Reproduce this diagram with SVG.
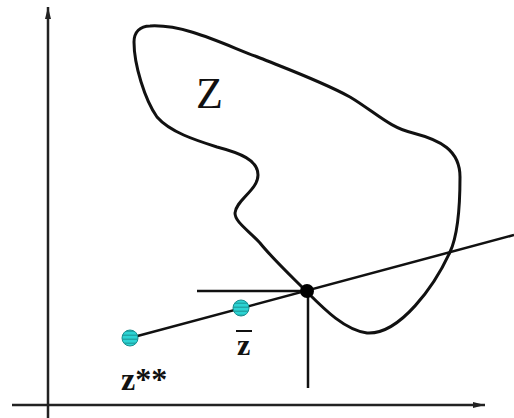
<svg xmlns="http://www.w3.org/2000/svg" width="514" height="418" viewBox="0 0 514 418">
<style>
.ax{stroke:#222;stroke-width:2.5;fill:none}
.ln{stroke:#111;stroke-width:2.5;fill:none}
.blob{stroke:#111;stroke-width:3;fill:none}
.pt{fill:url(#hatch);stroke:#1a8f8f;stroke-width:1}
.lbl{font-family:"Liberation Serif",serif;fill:#111}
</style>
<defs>
<pattern id="hatch" patternUnits="userSpaceOnUse" width="4" height="4">
<rect width="4" height="4" fill="#2cd3d3"/>
<rect y="2.6" width="4" height="1.2" fill="#1b9c9c"/>
</pattern>
<marker id="arr" viewBox="0 0 12 6" refX="12" refY="3" markerWidth="12" markerHeight="6" markerUnits="userSpaceOnUse" orient="auto">
<path d="M0,0 L12,3 L0,6 Z" fill="#222"/>
</marker>
</defs>
<g id="axes">
<line class="ax" x1="48" y1="418" x2="48" y2="7" marker-end="url(#arr)"/>
<line class="ax" x1="12" y1="405" x2="485" y2="405" marker-end="url(#arr)"/>
</g>
<g id="region-Z">
<path class="blob" d="M150 26 C185 24 225 45 260 58 C290 70 325 83 350 97 C375 112 390 128 413 133 C440 140 460 150 460 177 C460 205 458 235 450 252 C435 285 400 335 367 333 C345 330 325 310 307 292 C290 275 272 258 260 243 C248 230 235 222 235 213 C236 200 258 190 258 175 C258 160 240 153 217 147 C195 140 170 132 157 117 C145 100 134 65 134 42 C134 32 140 26 150 26 Z"/>
<text class="lbl" x="196" y="108" font-size="44">Z</text>
</g>
<g id="connectors">
<line class="ln" x1="130" y1="338" x2="514" y2="235"/>
<line class="ln" x1="197" y1="291" x2="307" y2="291"/>
<line class="ln" x1="308" y1="291" x2="308" y2="388"/>
</g>
<g id="z-star">
<circle class="pt" cx="130" cy="338" r="8"/>
<text class="lbl" x="121" y="390" font-size="32" font-weight="bold">z**</text>
</g>
<g id="z-bar">
<circle class="pt" cx="241" cy="308" r="8"/>
<line stroke="#111" stroke-width="2" x1="236" y1="331" x2="252" y2="331"/>
<text class="lbl" x="237" y="355" font-size="30" font-weight="bold">z</text>
</g>
<g id="z-hat">
<circle cx="307" cy="291" r="7" fill="#000"/>
</g>
</svg>
